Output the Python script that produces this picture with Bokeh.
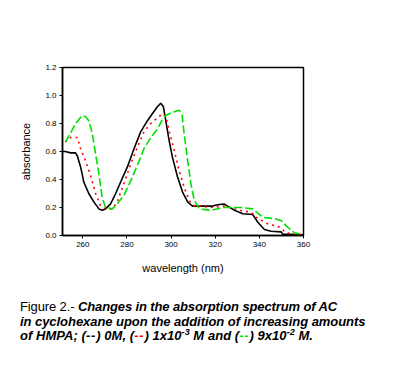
from bokeh.plotting import figure
from bokeh.models import Range1d, CustomJSTickFormatter, Div
from bokeh.layouts import column
from bokeh.embed import file_html
from bokeh.resources import INLINE

# 0 M HMPA (black solid)
wl_0M = [251, 252, 254.5, 256.7, 257.5, 259, 260.5, 262.7, 265, 267.3, 268.8, 270.3, 272.6, 274.9,
         277.1, 280.2, 283.2, 286.2, 289.3, 291.5, 293.8, 295.3, 296.5, 297.6, 299.1, 300.6, 302.9,
         305.2, 307.5, 309.7, 313.5, 318.8, 321, 324, 325.6, 328.7, 332.5, 337, 339.3, 342.3, 345.3,
         349.8, 350.6, 360]
abs_0M = [0.60, 0.60, 0.59, 0.59, 0.57, 0.49, 0.38, 0.30, 0.24, 0.19, 0.18, 0.19, 0.226, 0.30,
          0.38, 0.49, 0.62, 0.74, 0.82, 0.87, 0.92, 0.945, 0.92, 0.82, 0.68, 0.56, 0.42,
          0.31, 0.24, 0.21, 0.21, 0.21, 0.22, 0.225, 0.21, 0.18, 0.155, 0.15, 0.095, 0.043, 0.03,
          0.026, 0.01, 0.005]

# 1x10^-3 M HMPA (red dotted)
wl_1e3 = [252.1, 254.4, 257.5, 259, 261.2, 263.5, 265.8, 268, 270.3, 273.4, 275.6, 278.6, 281.7,
          284.7, 287.7, 290.8, 293, 296.1, 297.6, 299.1, 301.4, 303.7, 305.9, 308.2, 310.5, 313.5,
          318, 324, 327, 330.9, 336.2, 338.5, 343.8, 349.1, 352.1, 355.8, 360]
abs_1e3 = [0.667, 0.70, 0.70, 0.62, 0.535, 0.43, 0.30, 0.214, 0.19, 0.19, 0.24, 0.37, 0.51,
           0.63, 0.74, 0.80, 0.83, 0.87, 0.85, 0.75, 0.61, 0.46, 0.345, 0.25, 0.21, 0.21,
           0.20, 0.21, 0.20, 0.18, 0.167, 0.13, 0.083, 0.06, 0.02, 0.01, 0.005]

# 9x10^-2 M HMPA (green dashed)
wl_9e2 = [252.1, 254.4, 256.7, 259.7, 261.2, 262.7, 264.3, 265.8, 267.3, 268.8, 270.3, 273.4,
          275.6, 278.6, 281.7, 284.7, 287.7, 290.8, 293.8, 296.1, 297.6, 300.6, 303.7, 305, 305.9,
          307.5, 309, 310.5, 312.8, 318, 324, 331.7, 337, 341.6, 346.9, 349.8, 352.8, 355.8, 359.6]
abs_9e2 = [0.667, 0.73, 0.80, 0.857, 0.85, 0.82, 0.73, 0.58, 0.44, 0.27, 0.20, 0.19,
           0.226, 0.286, 0.39, 0.50, 0.62, 0.70, 0.76, 0.83, 0.857, 0.88, 0.895, 0.86, 0.73,
           0.535, 0.37, 0.25, 0.19, 0.18, 0.20, 0.20, 0.19, 0.13, 0.12, 0.107, 0.06, 0.02, 0.005]

x_ticks = [260, 280, 300, 320, 340, 360]
y_ticks = [0.0, 0.2, 0.4, 0.6, 0.8, 1.0, 1.2]

W = 395
CH_H = 280
p = figure(width=W, height=CH_H, output_backend="svg", toolbar_location=None,
           x_range=Range1d(250.8, 360), y_range=Range1d(0, 1.2),
           min_border_left=62, min_border_right=92, min_border_top=67, min_border_bottom=45)
p.background_fill_color = "white"
p.border_fill_color = "white"
p.outline_line_color = "black"
p.outline_line_width = 1.5
p.xgrid.visible = False
p.ygrid.visible = False

p.line(wl_0M, abs_0M, line_color="black", line_width=1.6)
p.line(wl_1e3, abs_1e3, line_color="red", line_width=1.6, line_dash="2 4")
p.line(wl_9e2, abs_9e2, line_color="#00e000", line_width=1.6, line_dash="8 3")

for ax in (p.xaxis[0], p.yaxis[0]):
    ax.axis_line_color = "black"
    ax.axis_line_width = 1.5
    ax.major_tick_line_color = "black"
    ax.major_tick_in = 0
    ax.major_tick_out = 3
    ax.minor_tick_line_color = None
    ax.major_label_text_font = "Liberation Sans"
    ax.major_label_text_font_size = "8px"
    ax.major_label_text_color = "black"
    ax.axis_label_text_font = "Liberation Sans"
    ax.axis_label_text_font_size = "11px"
    ax.axis_label_text_font_style = "normal"
    ax.axis_label_text_color = "black"

p.xaxis.ticker = x_ticks
p.yaxis.ticker = y_ticks
p.yaxis.formatter = CustomJSTickFormatter(code="return tick.toFixed(1);")
p.xaxis.axis_label = "wavelength (nm)"
p.yaxis.axis_label = "absorbance"
p.xaxis.major_label_standoff = 3
p.yaxis.major_label_standoff = 3
p.xaxis.axis_label_standoff = 12
p.yaxis.axis_label_standoff = 10

# caption text
FS = 13
BI = "font-style:italic;font-weight:bold;"
def sp(txt, style=BI, color="black", extra=""):
    return f'<span style="{style}color:{color};{extra}">{txt}</span>'
def dash(color):
    return sp("--", color=color, extra="letter-spacing:0.8px;")
def sup(txt):
    return (f'<span style="{BI}font-size:9px;position:relative;top:-5px;">{txt}</span>')

line1 = sp("Figure 2.- ", style="font-style:normal;font-weight:normal;") + \
        sp("Changes in the absorption spectrum of AC")
line2 = sp("in cyclohexane upon the addition of increasing amounts")
line3 = (sp("of HMPA; (") + dash("black") + sp(") 0M, (") + dash("red") +
         sp(") 1x10") + sup("-3") + sp(" M and (") + dash("#00e000") +
         sp(") 9x10") + sup("-2") + sp(" M."))

lines = [(311, line1, -0.12), (325.5, line2, -0.05), (340, line3, 0.05)]
blocks = []
for base, content, ls in lines:
    top = base - CH_H - 0.8465 * FS
    blocks.append(
        f'<div style="position:absolute;left:20px;top:{top:.1f}px;white-space:nowrap;'
        f'font-family:\'Liberation Sans\',Arial,sans-serif;font-size:{FS}px;line-height:1;'
        f'letter-spacing:{ls}px;color:black;">{content}</div>'
    )
html = ('<div style="position:relative;width:395px;height:99px;margin:0;padding:0;">'
        + "".join(blocks) + "</div>")
cap = Div(text=html, width=W, height=99, margin=(0, 0, 0, 0))

layout = column(p, cap, spacing=0)
open("out.html", "w").write(file_html(layout, INLINE))
